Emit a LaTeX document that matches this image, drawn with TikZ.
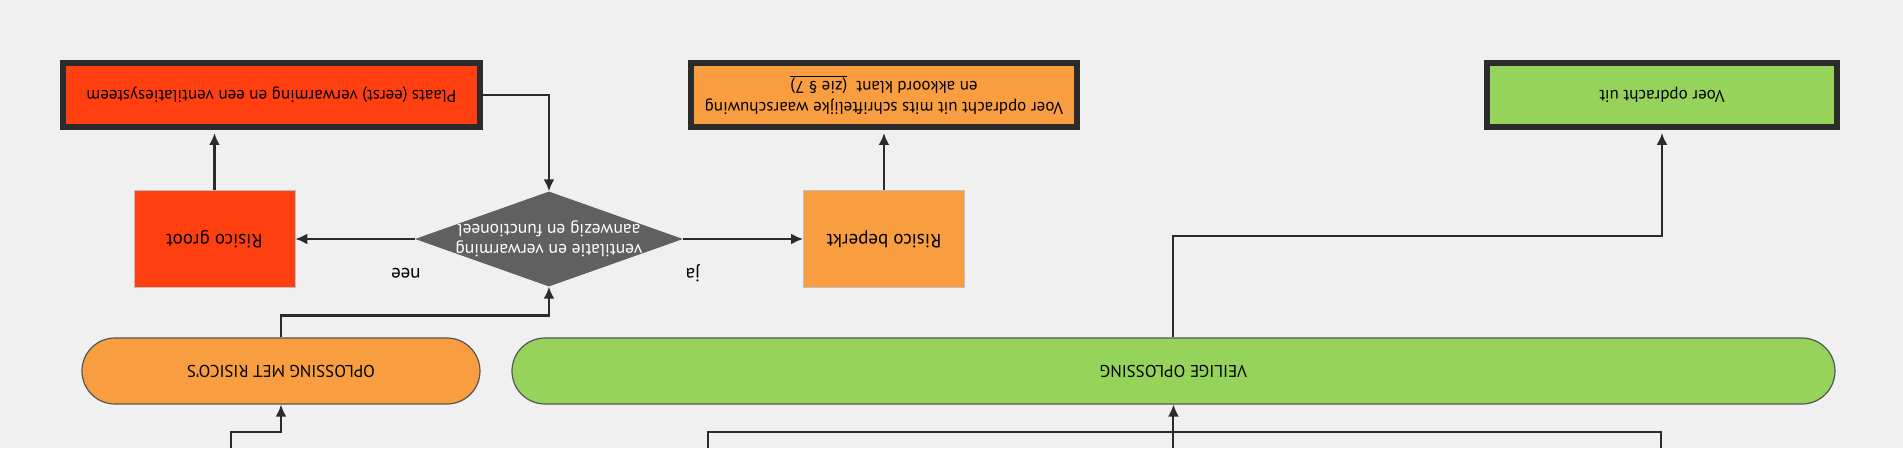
\documentclass[tikz,border=0pt]{standalone}
\usepackage{fontspec}
\setmainfont{PT Sans}
\usetikzlibrary{arrows.meta,shapes.geometric}

\definecolor{bggray}{HTML}{F0F0F0}
\definecolor{linegray}{HTML}{2B2B2B}
\definecolor{redfill}{HTML}{FF3F10}
\definecolor{orangefill}{HTML}{F99E40}
\definecolor{greenfill}{HTML}{95D35A}
\definecolor{diamondgray}{HTML}{606060}

\newcommand*{\picw}{1903}
\newcommand*{\pich}{448}

\begin{document}
\begin{tikzpicture}
[
	x=1pt, y=-1pt, rotate=180, transform shape,
	font=\fontsize{17}{21}\selectfont,
	actionbox/.style={rectangle,draw=linegray,line width=6pt,inner sep=0pt,minimum height=64pt,align=center},
	riskbox/.style={rectangle,draw=black!25,line width=0.6pt,inner sep=0pt,minimum width=161pt,minimum height=97pt,font=\fontsize{19}{23}\selectfont},
	choice/.style={diamond,fill=diamondgray,text=white,inner sep=-20pt,aspect=2.8,minimum width=268pt,minimum height=95pt,align=center,font=\fontsize{17.5}{20}\selectfont},
	pill/.style={rectangle,rounded corners=33pt,draw=linegray!80,line width=1.2pt,inner sep=0pt,minimum height=66pt},
	answer/.style={font=\fontsize{19}{23}\selectfont},
	link/.style={draw=linegray,line width=2.6pt},
	arrow/.style={link,-{Latex[length=12pt,width=11pt]}},
	thinlink/.style={draw=linegray,line width=2pt},
	thinarrow/.style={thinlink,-{Latex[length=12pt,width=11pt]}}
]

	% background
	\fill[bggray] (0,0) rectangle (\picw,\pich);
	\useasboundingbox (0,0) rectangle (\picw,\pich);

	% solutions
	\node[pill, fill=orangefill, minimum width=398pt] (risky) at (1622,77) {OPLOSSING MET RISICO'S};
	\node[pill, fill=greenfill, minimum width=1323pt] (safe) at (729.5,77) {VEILIGE OPLOSSING};

	% check
	\node[choice] (check) at (1354,209) {ventilatie en verwarming\\aanwezig en functioneel};
	\node[riskbox, fill=redfill] (high) at (1688.5,209) {Risico groot};
	\node[riskbox, fill=orangefill] (low) at (1019,209) {Risico beperkt};
	\node[answer] (no) at (1497,175) {nee};
	\node[answer] (yes) at (1210,175) {ja};

	% actions
	\node[actionbox, fill=redfill, minimum width=417pt] (install) at (1631.5,353) {Plaats (eerst) verwarming en een ventilatiesysteem};
	\node[actionbox, fill=orangefill, minimum width=386pt] (warn) at (1019,353) {Voer opdracht uit mits schriftelijke waarschuwing\\en akkoord klant\ \ \underline{(zie \S\ 7)}};
	\node[actionbox, fill=greenfill, minimum width=350pt] (go) at (241,353) {Voer opdracht uit};

	% incoming lines
	\coordinate (inrisky) at (1672,0);
	\coordinate (insafeA) at (1195,0);
	\coordinate (insafeB) at (729.5,0);
	\coordinate (insafeC) at (242,0);
	\draw[arrow] (inrisky) -- ++(0,16) -| (risky.north);
	\draw[thinlink] (insafeA) -- ++(0,16) -| (insafeC);
	\draw[thinarrow] (insafeB) -- (safe.north);

	% connectors
	\draw[arrow] (risky.south) -- ++(0,22) -| (check.north);
	\draw[arrow] (check.east) -- (high.west);
	\draw[arrow] (check.west) -- (low.east);
	\draw[arrow, shorten >=3pt] (high.south) -- (high.south |- install.north);
	\draw[arrow, shorten >=3pt] (low.south) -- (warn.north);
	\draw[arrow] (install.west) -| (check.south);
	\draw[thinarrow, shorten >=3pt] (safe.south) -- ++(0,101) -| (go.north);

\end{tikzpicture}
\end{document}
